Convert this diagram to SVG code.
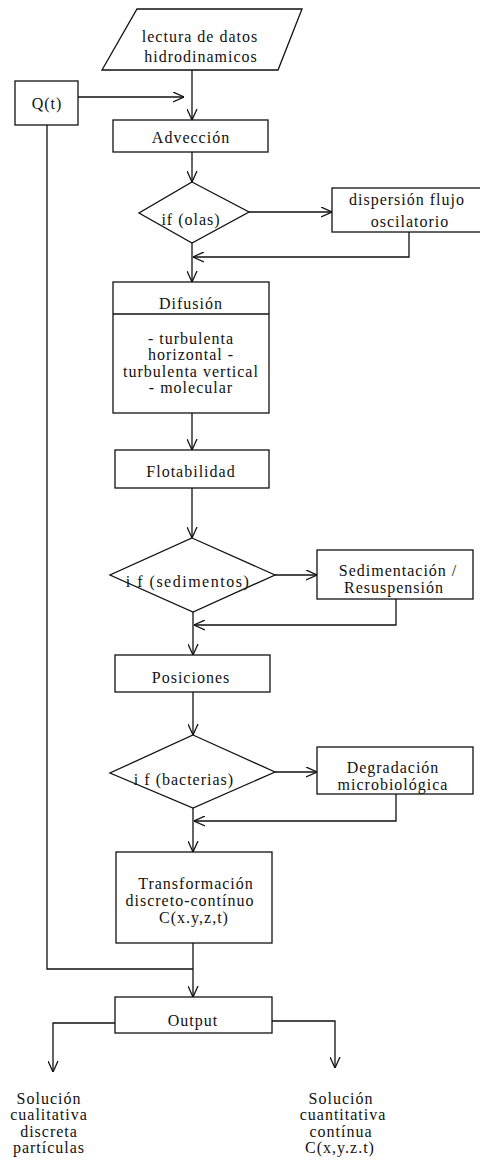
<svg xmlns="http://www.w3.org/2000/svg" width="480" height="1162" viewBox="0 0 480 1162">
<style>
.s{fill:#fff;stroke:#111;stroke-width:1.3}
.c{fill:none;stroke:#111;stroke-width:1.3}
text{font-family:"Liberation Serif","Times New Roman",serif;font-size:16px;letter-spacing:1px;fill:#111;text-anchor:middle}
</style>
<defs>
<marker id="arr" viewBox="0 0 11 11" refX="11" refY="5.5" markerWidth="11" markerHeight="11" markerUnits="userSpaceOnUse" orient="auto">
<path d="M0,0.5 L11,5.5 L0,10.5" fill="none" stroke="#111" stroke-width="1.3"/>
</marker>
</defs>
<rect width="480" height="1162" fill="#fff"/>
<g id="connectors">
<path class="c" d="M192,70 V120" marker-end="url(#arr)"/>
<path class="c" d="M78,97 H184" marker-end="url(#arr)"/>
<path class="c" d="M192,152 V182" marker-end="url(#arr)"/>
<path class="c" d="M249,212 H332" marker-end="url(#arr)"/>
<path class="c" d="M409,232 V257 H193" marker-end="url(#arr)"/>
<path class="c" d="M192,243 V282" marker-end="url(#arr)"/>
<path class="c" d="M192,413 V450" marker-end="url(#arr)"/>
<path class="c" d="M192,488 V538" marker-end="url(#arr)"/>
<path class="c" d="M275,575 H317" marker-end="url(#arr)"/>
<path class="c" d="M396,599 V625 H194" marker-end="url(#arr)"/>
<path class="c" d="M193,612 V655" marker-end="url(#arr)"/>
<path class="c" d="M193,692 V735" marker-end="url(#arr)"/>
<path class="c" d="M275,772 H317" marker-end="url(#arr)"/>
<path class="c" d="M396,794 V821 H194" marker-end="url(#arr)"/>
<path class="c" d="M193,808 V852" marker-end="url(#arr)"/>
<path class="c" d="M193,943 V997" marker-end="url(#arr)"/>
<path class="c" d="M47,125 V969 H193"/>
<path class="c" d="M115,1023 H53 V1072" marker-end="url(#arr)"/>
<path class="c" d="M272,1021 H335 V1068" marker-end="url(#arr)"/>
</g>
<g id="lectura">
<path class="s" d="M137,9 L302,9 L278,70 L102,70 Z"/>
<text x="200" y="42">lectura de datos</text>
<text x="201" y="62">hidrodinamicos</text>
</g>
<g id="qt">
<rect class="s" x="15" y="81" width="63" height="44"/>
<text x="47" y="109">Q(t)</text>
</g>
<g id="adveccion">
<rect class="s" x="113" y="120" width="155" height="32"/>
<text x="191" y="143">Advección</text>
</g>
<g id="if-olas">
<path class="s" d="M192,182 L249,212 L192,243 L139,213 Z"/>
<text x="191" y="225">if (olas)</text>
</g>
<g id="dispersion">
<rect class="s" x="332" y="188" width="160" height="44"/>
<text x="407" y="205">dispersión flujo</text>
<text x="410" y="227">oscilatorio</text>
</g>
<g id="difusion">
<rect class="s" x="113" y="282" width="156" height="131"/>
<line class="c" x1="113" y1="314" x2="269" y2="314"/>
<text x="191" y="309">Difusión</text>
<text x="191" y="344">- turbulenta</text>
<text x="191" y="360">horizontal -</text>
<text x="191" y="377">turbulenta vertical</text>
<text x="191" y="393">- molecular</text>
</g>
<g id="flotabilidad">
<rect class="s" x="115" y="450" width="154" height="38"/>
<text x="191" y="477">Flotabilidad</text>
</g>
<g id="if-sedimentos">
<path class="s" d="M192,538 L275,575 L193,612 L110,575 Z"/>
<text x="188" y="587" style="letter-spacing:1.5px">i f (sedimentos)</text>
</g>
<g id="sedimentacion">
<rect class="s" x="317" y="550" width="156" height="49"/>
<text x="398" y="576">Sedimentación  /</text>
<text x="394" y="593">Resuspensión</text>
</g>
<g id="posiciones">
<rect class="s" x="115" y="655" width="155" height="37"/>
<text x="191" y="683">Posiciones</text>
</g>
<g id="if-bacterias">
<path class="s" d="M193,735 L275,772 L193,808 L110,773 Z"/>
<text x="184" y="785">i f (bacterias)</text>
</g>
<g id="degradacion">
<rect class="s" x="317" y="747" width="156" height="47"/>
<text x="393" y="773">Degradación</text>
<text x="393" y="790">microbiológica</text>
</g>
<g id="transformacion">
<rect class="s" x="116" y="852" width="156" height="91"/>
<text x="196" y="889">Transformación</text>
<text x="190" y="906">discreto-contínuo</text>
<text x="194" y="923">C(x.y,z,t)</text>
</g>
<g id="output">
<rect class="s" x="115" y="997" width="157" height="36"/>
<text x="193" y="1026">Output</text>
</g>
<g id="sol-cualitativa">
<text x="49" y="1104">Solución</text>
<text x="49" y="1120">cualitativa</text>
<text x="49" y="1137">discreta</text>
<text x="49" y="1153">partículas</text>
</g>
<g id="sol-cuantitativa">
<text x="341" y="1104">Solución</text>
<text x="343" y="1120">cuantitativa</text>
<text x="341" y="1137">contínua</text>
<text x="340" y="1153">C(x,y.z.t)</text>
</g>
</svg>
